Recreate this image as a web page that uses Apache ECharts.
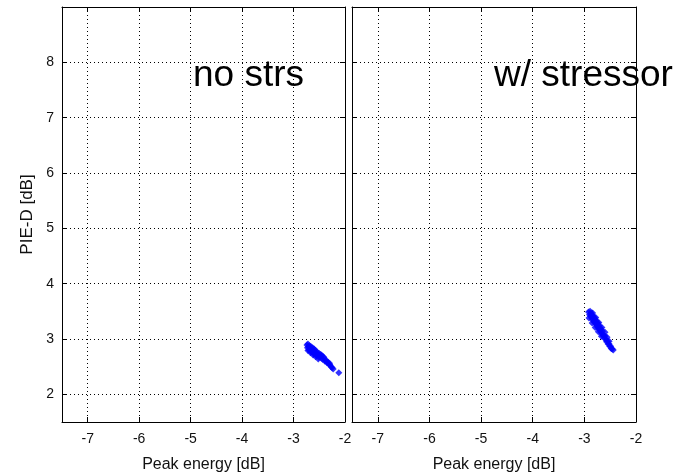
<!DOCTYPE html>
<html><head><meta charset="utf-8">
<script src="https://cdn.jsdelivr.net/npm/echarts@6/dist/echarts.min.js"></script>
<style>html,body{margin:0;padding:0;background:#fff}#c{width:682px;height:473px}</style>
</head><body><div id="c"></div>
<script>
const xTicks = [-7, -6, -5, -4, -3, -2];
const yTicks = [2, 3, 4, 5, 6, 7, 8];
const xRange = [-7.5, -2];
const yRange = [1.5, 9];
const xTitle = 'Peak energy [dB]';
const yTitle = 'PIE-D [dB]';
const panelTitles = ['no strs', 'w/ stressor'];
const noStrs = [
  [-2.74,2.89],[-2.73,2.84],[-2.72,2.91],[-2.71,2.86],[-2.70,2.80],[-2.69,2.88],[-2.68,2.83],
  [-2.67,2.78],[-2.66,2.86],[-2.65,2.81],[-2.64,2.76],[-2.63,2.84],[-2.62,2.79],[-2.61,2.74],
  [-2.60,2.82],[-2.59,2.77],[-2.58,2.72],[-2.57,2.79],[-2.56,2.74],[-2.55,2.70],[-2.54,2.76],
  [-2.52,2.72],[-2.51,2.67],[-2.50,2.74],[-2.48,2.69],[-2.46,2.65],[-2.45,2.70],[-2.43,2.63],
  [-2.41,2.66],[-2.39,2.60],[-2.37,2.62],[-2.35,2.57],[-2.33,2.58],[-2.31,2.54],[-2.29,2.53],
  [-2.27,2.50],[-2.25,2.48],[-2.23,2.46],[-2.12,2.39],
  [-2.72,2.79],[-2.67,2.75],[-2.62,2.71],[-2.57,2.68],[-2.52,2.64],[-2.47,2.72],[-2.42,2.68],
  [-2.36,2.60],[-2.30,2.56]
];
const withStressor = [
  [-2.92,3.49],[-2.90,3.44],[-2.89,3.50],[-2.88,3.41],[-2.87,3.47],[-2.86,3.38],[-2.85,3.44],
  [-2.84,3.35],[-2.83,3.41],[-2.82,3.32],[-2.81,3.39],[-2.80,3.30],[-2.79,3.36],[-2.78,3.27],
  [-2.77,3.33],[-2.76,3.24],[-2.75,3.30],[-2.74,3.21],[-2.73,3.27],[-2.72,3.18],[-2.71,3.24],
  [-2.70,3.15],[-2.69,3.20],[-2.68,3.12],[-2.67,3.17],[-2.66,3.09],[-2.65,3.14],[-2.64,3.06],
  [-2.62,3.07],[-2.61,3.01],[-2.60,3.05],[-2.58,2.99],[-2.57,2.95],[-2.55,2.96],[-2.54,2.91],
  [-2.52,2.91],[-2.51,2.87],[-2.49,2.87],[-2.48,2.83],[-2.46,2.82],[-2.44,2.80],
  [-2.91,3.38],[-2.85,3.29],[-2.79,3.21],[-2.73,3.13],[-2.67,3.05],[-2.84,3.47],[-2.78,3.39],
  [-2.72,3.30],[-2.66,3.21],[-2.60,3.12],[-2.56,3.03],[-2.52,2.96]
];

const FONT = 'Liberation Sans, Arial, sans-serif';
const axisColor = '#000';
const grids = [
  {left: 62, top: 7, width: 283, height: 415, outerBoundsMode: 'none', containLabel: false},
  {left: 352, top: 7, width: 284, height: 415, outerBoundsMode: 'none', containLabel: false}
];

function xAx(gi, pos) {
  const main = pos === 'bottom';
  return {
    type: 'value', gridIndex: gi, position: pos, min: xRange[0], max: xRange[1],
    axisLine: {show: true, onZero: false, lineStyle: {color: axisColor, width: 1}},
    axisTick: {show: true, inside: true, length: 5, customValues: xTicks, lineStyle: {color: axisColor}},
    axisLabel: {show: main, customValues: xTicks, fontSize: 14, color: '#111', margin: 10, fontFamily: FONT,
      hideOverlap: false, showMinLabel: true, showMaxLabel: true},
    splitLine: {show: main, lineStyle: {type: [1, 3], color: '#000', width: 1}},
    name: main ? xTitle : '', nameLocation: 'middle', nameGap: 35,
    nameTextStyle: {fontSize: 16, color: '#111', fontFamily: FONT}
  };
}
function yAx(gi, pos, showLabels) {
  const main = pos === 'left';
  return {
    type: 'value', gridIndex: gi, position: pos, min: yRange[0], max: yRange[1],
    axisLine: {show: true, onZero: false, lineStyle: {color: axisColor, width: 1}},
    axisTick: {show: true, inside: true, length: 5, customValues: yTicks, lineStyle: {color: axisColor}},
    axisLabel: {show: main && showLabels, customValues: yTicks, fontSize: 14, color: '#111', margin: 8, fontFamily: FONT},
    splitLine: {show: main, lineStyle: {type: [1, 3], color: '#000', width: 1}},
    name: main && showLabels ? yTitle : '', nameLocation: 'middle', nameGap: 26,
    nameTextStyle: {fontSize: 17, color: '#111', fontFamily: FONT}
  };
}

const option = {
  animation: false,
  backgroundColor: '#fff',
  grid: grids,
  xAxis: [xAx(0, 'bottom'), xAx(1, 'bottom'), xAx(0, 'top'), xAx(1, 'top')],
  yAxis: [yAx(0, 'left', true), yAx(1, 'left', false), yAx(0, 'right', false), yAx(1, 'right', false)],
  series: [
    {type: 'scatter', xAxisIndex: 0, yAxisIndex: 0, data: noStrs, symbol: 'diamond', symbolSize: 7,
      itemStyle: {color: '#0000ff'}, silent: true},
    {type: 'scatter', xAxisIndex: 1, yAxisIndex: 1, data: withStressor, symbol: 'diamond', symbolSize: 7,
      itemStyle: {color: '#0000ff'}, silent: true}
  ],
  graphic: [
    {type: 'text', left: 193, top: 57, z: 100, style: {text: panelTitles[0], font: '37px ' + FONT, fill: '#000'}},
    {type: 'text', left: 494, top: 57, z: 100, style: {text: panelTitles[1], font: '37px ' + FONT, fill: '#000'}}
  ]
};
const chart = echarts.init(document.getElementById('c'), null, {renderer: 'canvas'});
chart.setOption(option);
</script>
</body></html>
